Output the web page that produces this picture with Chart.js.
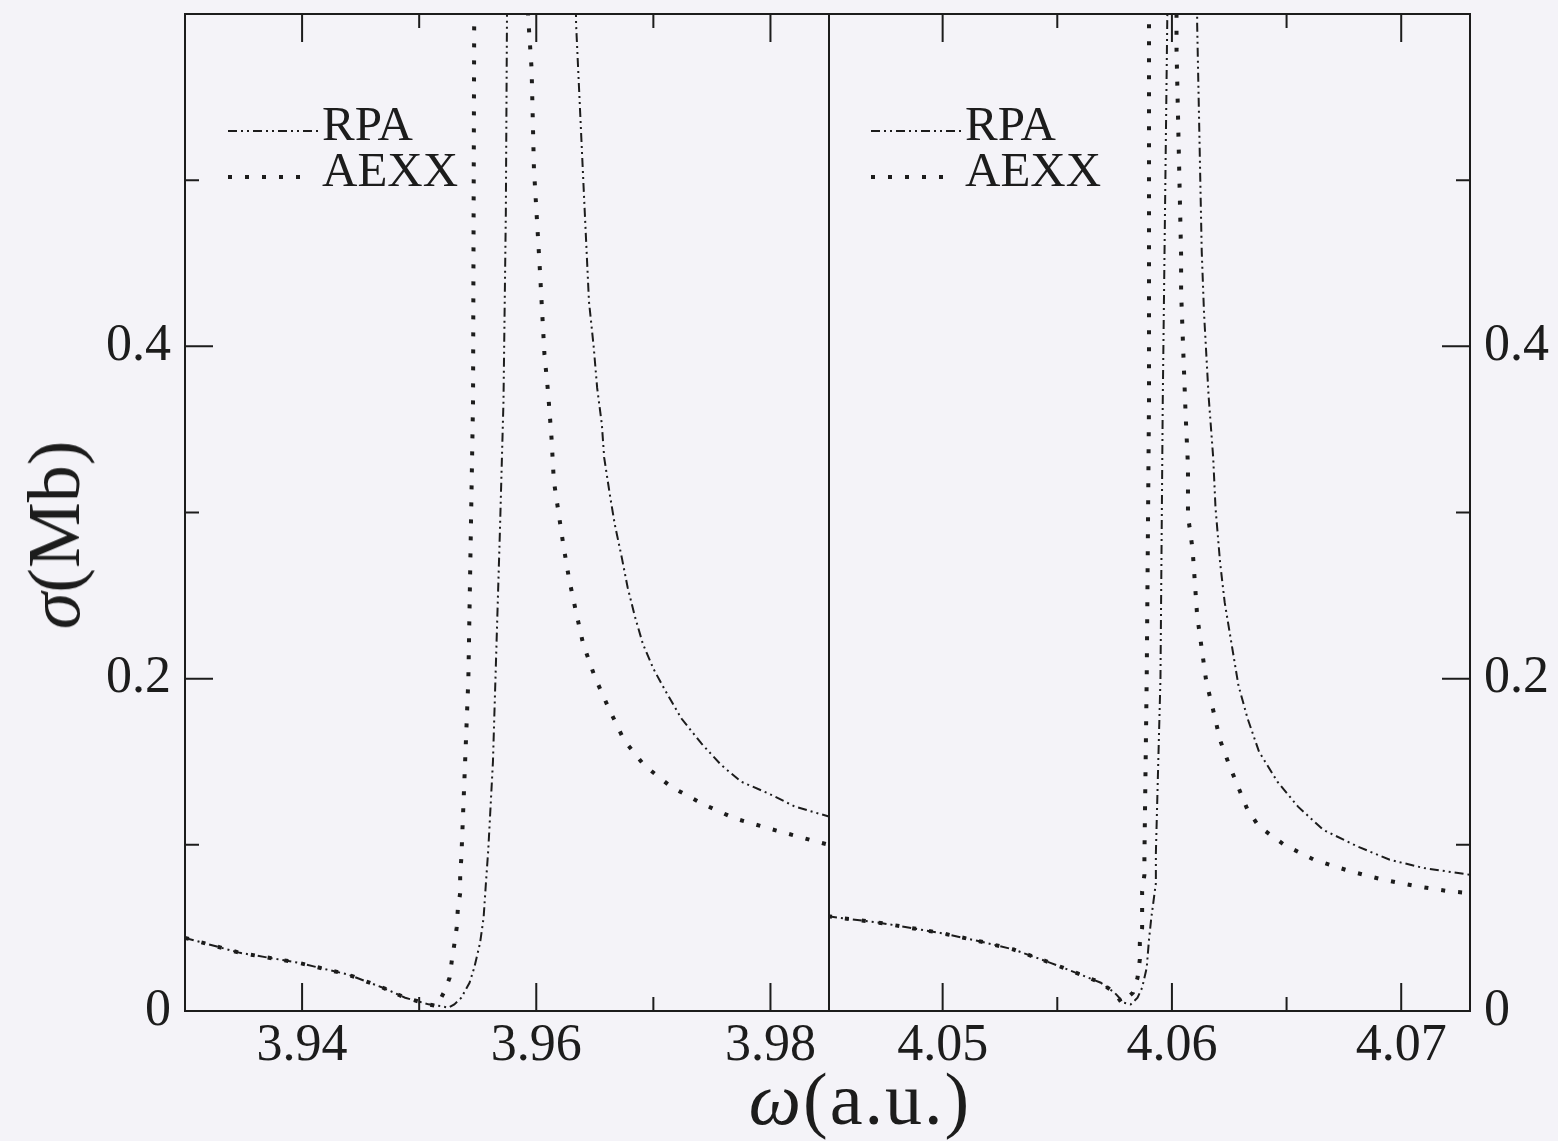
<!DOCTYPE html>
<html>
<head>
<meta charset="utf-8">
<script src="https://cdn.jsdelivr.net/npm/chart.js@4.4.1/dist/chart.umd.min.js"></script>
<style>
  html, body { margin: 0; padding: 0; background: #f4f3f8; }
  #page { position: relative; width: 1558px; height: 1141px; overflow: hidden; }
  .panel { position: absolute; top: 0; }
  .axis-title { position: absolute; font-family: "Liberation Serif", serif; color: #1c1c1c; white-space: nowrap; line-height: 1; }
</style>
</head>
<body>
<div id="page">
  <canvas id="leftChart" class="panel" style="left:0" width="830" height="1141"></canvas>
  <canvas id="rightChart" class="panel" style="left:828px" width="730" height="1141"></canvas>
  <div class="axis-title" id="yTitle" style="left:54px; top:535px; font-size:74px; transform: translate(-50%, -50%) rotate(-90deg);"><i>σ</i>(Mb)</div>
  <div class="axis-title" id="xTitle" style="left:860px; top:1062px; font-size:74px; letter-spacing:2px; transform: translateX(-50%);"><i>ω</i>(a.u.)</div>
</div>
<script>
// axis ranges and ticks
const yRange = [0, 0.6];
const yTicks = [0, 0.1, 0.2, 0.3, 0.4, 0.5];
const yLabeled = [0, 0.2, 0.4];
const leftRange = [3.93, 3.985];
const leftXTicks = [3.94, 3.95, 3.96, 3.97, 3.98];
const leftXLabeled = [3.94, 3.96, 3.98];
const rightRange = [4.045, 4.073];
const rightXTicks = [4.05, 4.055, 4.06, 4.065, 4.07];
const rightXLabeled = [4.05, 4.06, 4.07];

const seriesNames = ["RPA", "AEXX"];

// left panel: omega (a.u.), sigma (Mb); peaks run off the top of the frame
const rpaLeft = [
  [3.9300, 0.044], [3.9347, 0.035], [3.9397, 0.029], [3.9439, 0.022], [3.9469, 0.014],
  [3.9488, 0.008], [3.9508, 0.004], [3.9518, 0.003], [3.9525, 0.002], [3.9530, 0.004],
  [3.9536, 0.008], [3.9543, 0.017], [3.9547, 0.026], [3.9552, 0.041], [3.9555, 0.056],
  [3.9557, 0.077], [3.9559, 0.097], [3.9563, 0.150], [3.9566, 0.220], [3.9569, 0.290],
  [3.9572, 0.367], [3.9574, 0.480], [3.9575, 0.600], [3.9577, 0.700], [3.9605, 2.0],
  [3.9632, 0.700], [3.9634, 0.594], [3.9637, 0.548], [3.9641, 0.487], [3.9645, 0.427],
  [3.9649, 0.400], [3.9652, 0.375], [3.9656, 0.353], [3.9658, 0.333], [3.9663, 0.310],
  [3.9667, 0.293], [3.9673, 0.273], [3.9678, 0.255], [3.9684, 0.238], [3.9691, 0.221],
  [3.9700, 0.206], [3.9710, 0.193], [3.9724, 0.176], [3.9741, 0.161], [3.9758, 0.148],
  [3.9775, 0.138], [3.9798, 0.131], [3.9821, 0.123], [3.9850, 0.117]
];
const aexxLeft = [
  [3.9300, 0.044], [3.9347, 0.035], [3.9397, 0.029], [3.9439, 0.022], [3.9469, 0.014],
  [3.9488, 0.008], [3.9508, 0.004], [3.9515, 0.003], [3.9521, 0.011], [3.9526, 0.020],
  [3.9528, 0.031], [3.9530, 0.040], [3.9532, 0.050], [3.9533, 0.061], [3.9535, 0.071],
  [3.9535, 0.082], [3.9536, 0.092], [3.9542, 0.200], [3.9546, 0.367], [3.9547, 0.600],
  [3.9548, 0.700], [3.9570, 3.0], [3.9592, 0.700], [3.9593, 0.599], [3.9596, 0.567],
  [3.9598, 0.507], [3.9603, 0.447], [3.9607, 0.395], [3.9610, 0.373], [3.9613, 0.345],
  [3.9615, 0.319], [3.9619, 0.300], [3.9623, 0.281], [3.9628, 0.260], [3.9634, 0.240],
  [3.9640, 0.221], [3.9650, 0.201], [3.9662, 0.182], [3.9675, 0.163], [3.9692, 0.148],
  [3.9715, 0.135], [3.9741, 0.125], [3.9769, 0.116], [3.9798, 0.110], [3.9839, 0.102],
  [3.9850, 0.100]
];

// right panel
const rpaRight = [
  [4.0450, 0.057], [4.0473, 0.053], [4.0499, 0.047], [4.0516, 0.042], [4.0531, 0.037],
  [4.0547, 0.029], [4.0560, 0.022], [4.0569, 0.017], [4.0575, 0.011], [4.0579, 0.005],
  [4.0582, 0.004], [4.0585, 0.008], [4.0587, 0.014], [4.0589, 0.026], [4.0590, 0.043],
  [4.0591, 0.056], [4.0593, 0.077], [4.0593, 0.095], [4.0595, 0.200], [4.0596, 0.367],
  [4.0598, 0.600], [4.0598, 0.700], [4.0605, 3.0], [4.0611, 0.700], [4.0611, 0.594],
  [4.0613, 0.457], [4.0614, 0.420], [4.0616, 0.370], [4.0618, 0.333], [4.0619, 0.303],
  [4.0621, 0.270], [4.0623, 0.246], [4.0626, 0.221], [4.0629, 0.196], [4.0633, 0.176],
  [4.0638, 0.156], [4.0646, 0.138], [4.0655, 0.123], [4.0666, 0.109], [4.0681, 0.099],
  [4.0695, 0.091], [4.0710, 0.086], [4.0730, 0.082]
];
const aexxRight = [
  [4.0450, 0.057], [4.0473, 0.053], [4.0499, 0.047], [4.0516, 0.042], [4.0531, 0.037],
  [4.0547, 0.029], [4.0560, 0.022], [4.0569, 0.017], [4.0575, 0.011], [4.0578, 0.005],
  [4.0583, 0.011], [4.0585, 0.020], [4.0586, 0.031], [4.0586, 0.041], [4.0587, 0.050],
  [4.0587, 0.061], [4.0587, 0.072], [4.0588, 0.082], [4.0588, 0.093], [4.0589, 0.200],
  [4.0590, 0.367], [4.0590, 0.600], [4.0590, 0.700], [4.0596, 3.0], [4.0602, 0.700],
  [4.0602, 0.579], [4.0604, 0.455], [4.0604, 0.433], [4.0605, 0.395], [4.0606, 0.358],
  [4.0607, 0.328], [4.0607, 0.298], [4.0609, 0.278], [4.0610, 0.258], [4.0611, 0.238],
  [4.0613, 0.218], [4.0615, 0.198], [4.0618, 0.181], [4.0621, 0.163], [4.0625, 0.148],
  [4.0633, 0.121], [4.0638, 0.111], [4.0649, 0.100], [4.0662, 0.091], [4.0678, 0.084],
  [4.0692, 0.079], [4.0707, 0.075], [4.0721, 0.072], [4.0730, 0.071]
];

const ink = "#1c1c1c";
const tickFont = { family: "'Liberation Serif', serif", size: 52 };

const inList = (list, v) => list.some((item) => Math.abs(item - v) < 1e-9);

const toPoints = (pairs) => pairs.map(([x, y]) => ({ x, y }));

const makeDatasets = (rpa, aexx) => [
  {
    label: seriesNames[0],
    data: toPoints(rpa),
    borderColor: ink,
    borderWidth: 2,
    borderDash: [9, 4, 2, 4, 2, 4],
    pointRadius: 0,
    tension: 0
  },
  {
    label: seriesNames[1],
    data: toPoints(aexx),
    borderColor: ink,
    borderWidth: 4,
    borderDash: [4, 13],
    pointRadius: 0,
    tension: 0
  }
];

// frame with inward ticks on every outer side
const frameTicks = {
  id: "frameTicks",
  afterDatasetsDraw(chart, args, opts) {
    const { ctx, chartArea: a, scales } = chart;
    const x = scales.x;
    const y = scales.y;
    ctx.save();
    ctx.strokeStyle = ink;
    ctx.lineWidth = 2;
    ctx.setLineDash([]);
    ctx.strokeRect(a.left, a.top, a.right - a.left, a.bottom - a.top);
    ctx.beginPath();
    x.ticks.forEach((t) => {
      const px = x.getPixelForValue(t.value);
      const len = inList(opts.xMajor, t.value) ? 28 : 14;
      ctx.moveTo(px, a.bottom);
      ctx.lineTo(px, a.bottom - len);
      ctx.moveTo(px, a.top);
      ctx.lineTo(px, a.top + len);
    });
    y.ticks.forEach((t) => {
      const py = y.getPixelForValue(t.value);
      const len = inList(yLabeled, t.value) ? 28 : 14;
      if (opts.side === "left") {
        ctx.moveTo(a.left, py);
        ctx.lineTo(a.left + len, py);
      } else {
        ctx.moveTo(a.right, py);
        ctx.lineTo(a.right - len, py);
      }
    });
    ctx.stroke();
    ctx.restore();
  }
};

// legend drawn inside the plot, top left
const insideLegend = {
  id: "insideLegend",
  afterDatasetsDraw(chart, args, opts) {
    const { ctx, chartArea: a } = chart;
    chart.data.datasets.forEach((ds, i) => {
      const baseY = a.top + opts.firstBaseline + i * opts.rowGap;
      ctx.save();
      ctx.strokeStyle = ds.borderColor;
      ctx.lineWidth = ds.borderWidth;
      ctx.setLineDash(ds.borderDash);
      ctx.beginPath();
      ctx.moveTo(a.left + opts.lineStart, baseY - 9);
      ctx.lineTo(a.left + opts.lineStart + opts.lineLen[i], baseY - 9);
      ctx.stroke();
      ctx.setLineDash([]);
      ctx.fillStyle = ink;
      ctx.font = "49px 'Liberation Serif', serif";
      ctx.textBaseline = "alphabetic";
      ctx.textAlign = "left";
      ctx.fillText(ds.label, a.left + opts.textStart, baseY);
      ctx.restore();
    });
  }
};

const buildChart = (canvasId, cfg) => new Chart(document.getElementById(canvasId), {
  type: "line",
  data: { datasets: makeDatasets(cfg.rpa, cfg.aexx) },
  options: {
    responsive: false,
    animation: false,
    layout: { padding: cfg.padding },
    plugins: {
      legend: { display: false },
      tooltip: { enabled: false },
      frameTicks: { side: cfg.side, xMajor: cfg.xLabeled },
      insideLegend: { firstBaseline: 126, rowGap: 46, lineStart: 43, lineLen: [90, 76], textStart: 137 }
    },
    scales: {
      x: {
        type: "linear",
        min: cfg.range[0],
        max: cfg.range[1],
        afterBuildTicks: (scale) => { scale.ticks = cfg.xTicks.map((v) => ({ value: v })); },
        afterFit: (scale) => {
          scale.height = 130;
          scale.paddingLeft = 0;
          scale.paddingRight = 0;
        },
        grid: { display: false, drawTicks: false },
        border: { display: false },
        ticks: {
          color: ink,
          font: tickFont,
          padding: 4,
          maxRotation: 0,
          autoSkip: false,
          callback: (v) => (inList(cfg.xLabeled, v) ? String(v) : "")
        }
      },
      y: {
        type: "linear",
        position: cfg.side,
        min: yRange[0],
        max: yRange[1],
        afterBuildTicks: (scale) => { scale.ticks = yTicks.map((v) => ({ value: v })); },
        afterFit: (scale) => {
          scale.width = cfg.yWidth;
          scale.paddingTop = 0;
          scale.paddingBottom = 0;
        },
        grid: { display: false, drawTicks: false },
        border: { display: false },
        ticks: {
          color: ink,
          font: tickFont,
          padding: 14,
          autoSkip: false,
          callback: (v) => (inList(yLabeled, v) ? String(v) : "")
        }
      }
    }
  },
  plugins: [frameTicks, insideLegend]
});

buildChart("leftChart", {
  rpa: rpaLeft, aexx: aexxLeft, range: leftRange, xTicks: leftXTicks, xLabeled: leftXLabeled,
  side: "left", yWidth: 185, padding: { top: 14, right: 1, left: 0, bottom: 0 }
});
buildChart("rightChart", {
  rpa: rpaRight, aexx: aexxRight, range: rightRange, xTicks: rightXTicks, xLabeled: rightXLabeled,
  side: "right", yWidth: 88, padding: { top: 14, right: 0, left: 0, bottom: 0 }
});
</script>
</body>
</html>
